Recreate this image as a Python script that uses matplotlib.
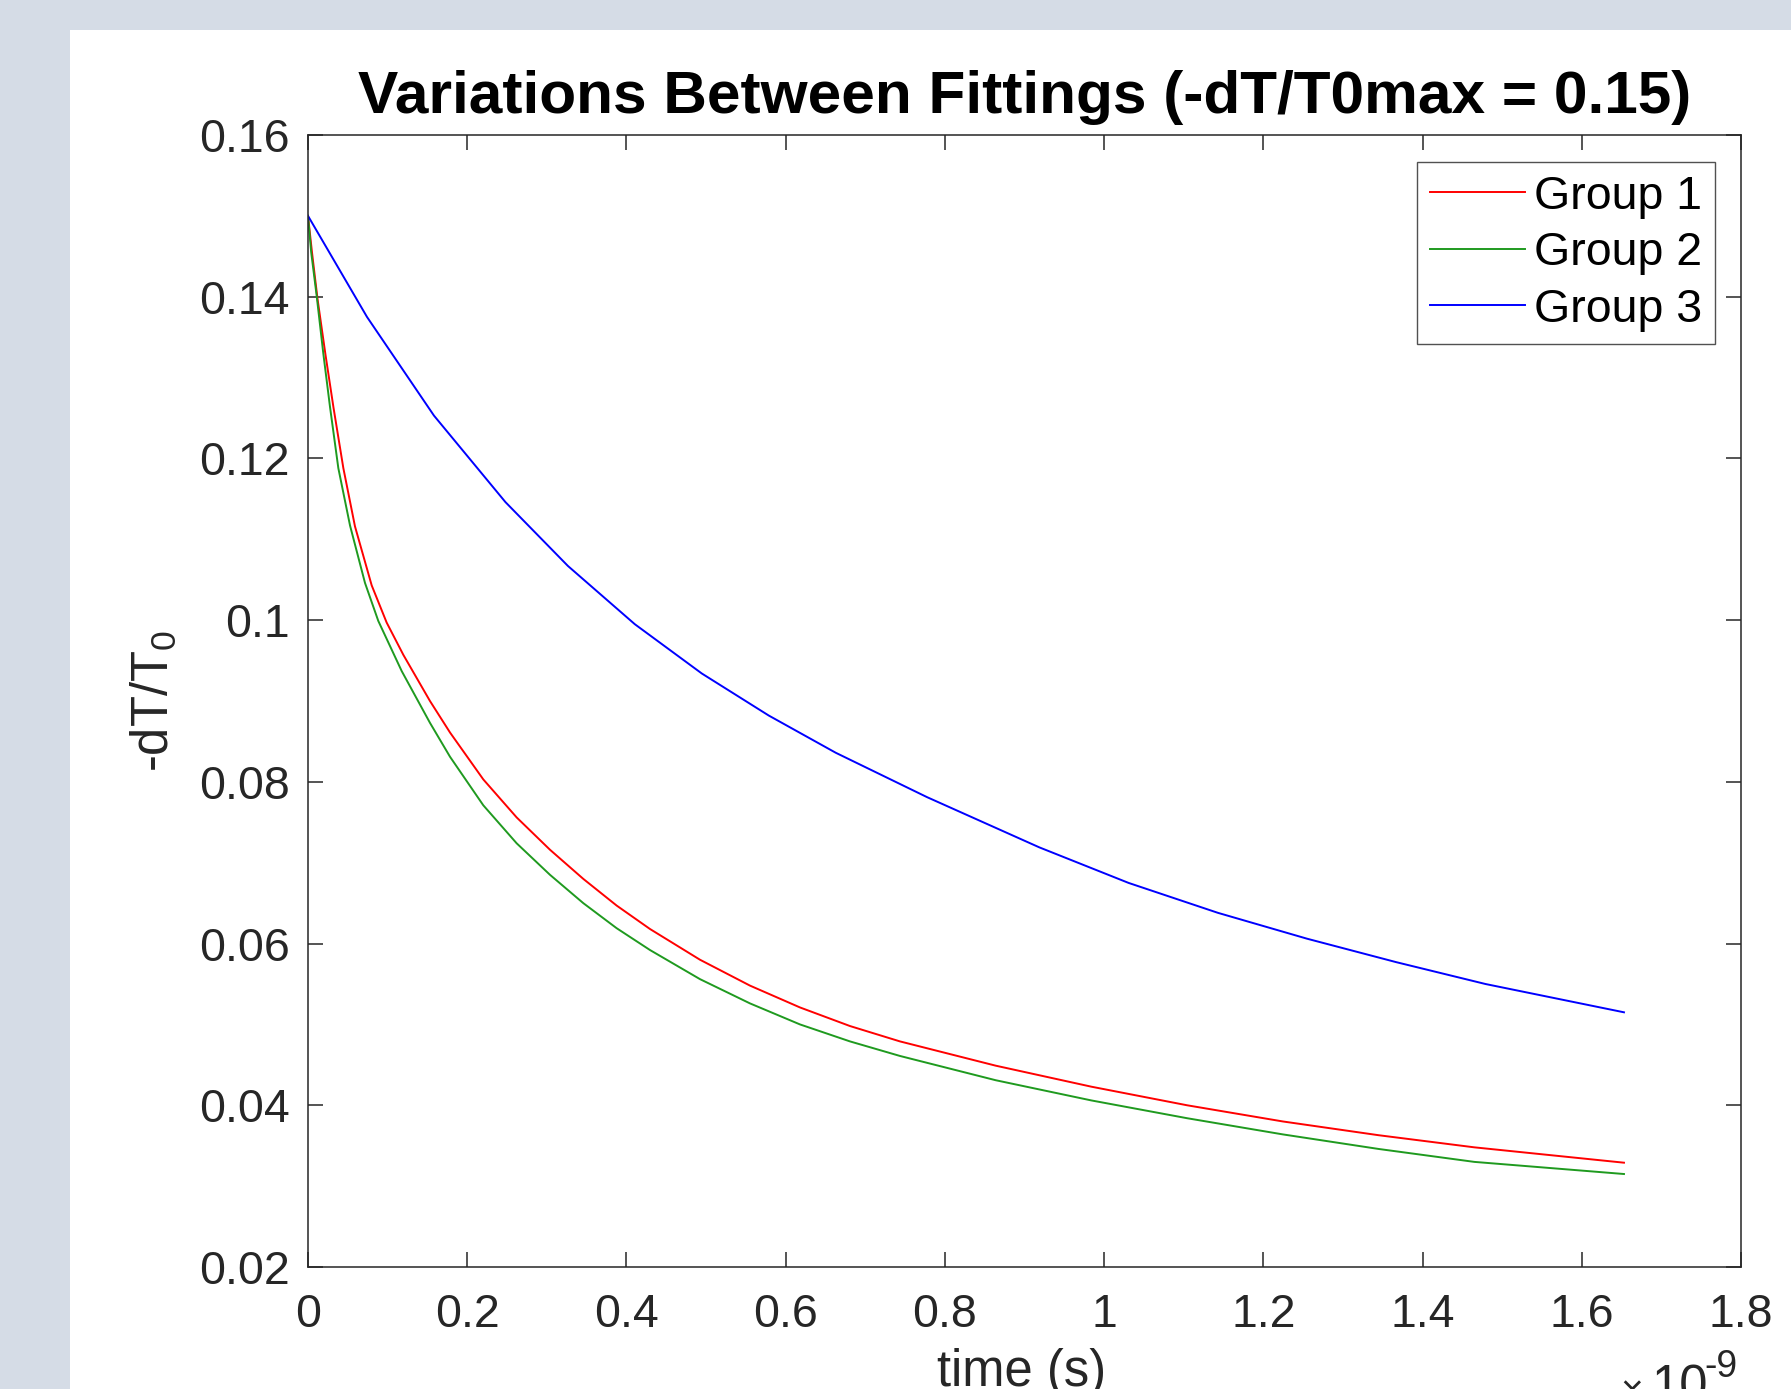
import matplotlib
matplotlib.use('Agg')
import matplotlib.pyplot as plt
from matplotlib.patches import Rectangle
from matplotlib.ticker import FuncFormatter, FixedLocator

plt.rcParams['font.family'] = ['Liberation Sans', 'DejaVu Sans']
plt.rcParams['mathtext.fontset'] = 'custom'
plt.rcParams['mathtext.rm'] = 'Liberation Sans'
plt.rcParams['mathtext.it'] = 'Liberation Sans:italic'
plt.rcParams['mathtext.bf'] = 'Liberation Sans:bold'

# ---------------- data (time in ns, value -dT/T0) ----------------
group1_t_ns = [0, 0.005, 0.012, 0.022, 0.032, 0.0444, 0.059, 0.080, 0.0988, 0.1198,
               0.1532, 0.1784, 0.2202, 0.2621, 0.304, 0.3458, 0.3877, 0.4296, 0.4924,
               0.5552, 0.618, 0.6808, 0.7436, 0.8638, 0.984, 1.1043, 1.2245, 1.3447,
               1.465, 1.653]
group1_val = [0.150, 0.1455, 0.1397, 0.1328, 0.1263, 0.1188, 0.1116, 0.1043, 0.0997, 0.0957,
              0.0900, 0.0861, 0.0803, 0.0756, 0.0716, 0.0680, 0.0647, 0.0618, 0.0580,
              0.0548, 0.0521, 0.0498, 0.0479, 0.0449, 0.0423, 0.0400, 0.0380, 0.0363,
              0.0348, 0.0329]

group2_t_ns = [0, 0.004, 0.0109, 0.0192, 0.0276, 0.0381, 0.0528, 0.0716, 0.0883, 0.1177,
               0.1532, 0.1784, 0.2202, 0.2621, 0.304, 0.3458, 0.3877, 0.4296, 0.4924,
               0.5552, 0.618, 0.6808, 0.7436, 0.8638, 0.984, 1.1043, 1.2245, 1.3447,
               1.465, 1.653]
group2_val = [0.150, 0.1455, 0.1401, 0.1330, 0.1264, 0.1188, 0.1117, 0.1046, 0.0999, 0.0937,
              0.0873, 0.0831, 0.0771, 0.0724, 0.0685, 0.0650, 0.0619, 0.0592, 0.0556,
              0.0526, 0.0500, 0.0479, 0.0461, 0.0431, 0.0406, 0.0384, 0.0364, 0.0346,
              0.0330, 0.0315]

group3_t_ns = [0, 0.0741, 0.1582, 0.248, 0.3265, 0.4105, 0.4947, 0.5788, 0.6629, 0.7778,
               0.9186, 1.0308, 1.143, 1.255, 1.367, 1.479, 1.653]
group3_val = [0.150, 0.1375, 0.1253, 0.1146, 0.1067, 0.0995, 0.0934, 0.0882, 0.0836, 0.0781,
              0.0719, 0.0675, 0.0638, 0.0606, 0.0577, 0.0550, 0.0515]

series_labels = ['Group 1', 'Group 2', 'Group 3']
series_colors = ['#ff0000', '#1f9a1f', '#0000ff']

x_ticks_ns = [0, 0.2, 0.4, 0.6, 0.8, 1.0, 1.2, 1.4, 1.6, 1.8]
y_ticks = [0.02, 0.04, 0.06, 0.08, 0.10, 0.12, 0.14, 0.16]

title_text = 'Variations Between Fittings (-dT/T0max = 0.15)'
xlabel_text = 'time (s)'
ylabel_text = '-dT/T$_{\\mathrm{0}}$'

# ---------------- figure ----------------
W, H = 1791, 1389
fig = plt.figure(figsize=(W / 100, H / 100), dpi=100)
fig.patch.set_facecolor('#d5dce6')
bg = Rectangle((70 / W, 0), 1 - 70 / W, 1 - 30 / H, transform=fig.transFigure,
               facecolor='white', edgecolor='none', zorder=-10)
fig.add_artist(bg)

ax_l, ax_r, ax_t, ax_b = 308, 1741, 135, 1267
ax = fig.add_axes([ax_l / W, 1 - ax_b / H, (ax_r - ax_l) / W, (ax_b - ax_t) / H])
ax.set_zorder(1)

dark = '#262626'
NS = 1e-9
TICK_FS = 33.5
LABEL_FS = 36.5
for t, v, lab, col in zip([group1_t_ns, group2_t_ns, group3_t_ns],
                          [group1_val, group2_val, group3_val],
                          series_labels, series_colors):
    ax.plot([ti * NS for ti in t], v, color=col, lw=1.4, label=lab,
            solid_joinstyle='round')

ax.set_xlim(0, 1.8 * NS)
ax.set_ylim(0.02, 0.16)
ax.xaxis.set_major_locator(FixedLocator([x * NS for x in x_ticks_ns]))
ax.yaxis.set_major_locator(FixedLocator(y_ticks))
ax.xaxis.set_major_formatter(FuncFormatter(lambda x, p: '%g' % round(x / NS, 6)))
ax.yaxis.set_major_formatter(FuncFormatter(lambda y, p: '%g' % round(y, 6)))

for s in ax.spines.values():
    s.set_color(dark)
    s.set_linewidth(1.1)
ax.tick_params(which='both', direction='in', length=10.8, width=1.1, color=dark,
               top=True, right=True, labelsize=TICK_FS, labelcolor=dark)
ax.tick_params(axis='y', pad=13)
ax.tick_params(axis='x', pad=19)

ax.set_title(title_text, fontsize=43.5, fontweight='bold', color='black', pad=16)
ax.set_ylabel(ylabel_text, fontsize=LABEL_FS, color=dark, va='center')
ax.yaxis.set_label_coords((154 - ax_l) / (ax_r - ax_l), 0.5)

fig.text(1022 / W, 1 - 1348 / H, xlabel_text, fontsize=LABEL_FS, color=dark,
         ha='center', va='top')
# MATLAB-style exponent label for the x axis
fig.text(1620 / W, 1 - 1374 / H, '\u00d7', fontsize=28, color=dark, ha='left', va='top')
fig.text(1651 / W, 1 - 1364 / H, '10', fontsize=LABEL_FS, color=dark, ha='left', va='top')
fig.text(1704 / W, 1 - 1349 / H, '-9', fontsize=27, color=dark, ha='left', va='top')

leg = ax.legend(loc='upper right',
                bbox_to_anchor=((1715 - ax_l) / (ax_r - ax_l), (ax_b - 162) / (ax_b - ax_t)),
                borderaxespad=0, fontsize=TICK_FS, frameon=True, fancybox=False,
                handlelength=2.05, handletextpad=0.2, labelspacing=0.27, borderpad=0.27)
leg.get_frame().set_edgecolor(dark)
leg.get_frame().set_linewidth(1.0)
for txt in leg.get_texts():
    txt.set_color('black')

fig.savefig('out.png', dpi=100, facecolor=fig.get_facecolor())
